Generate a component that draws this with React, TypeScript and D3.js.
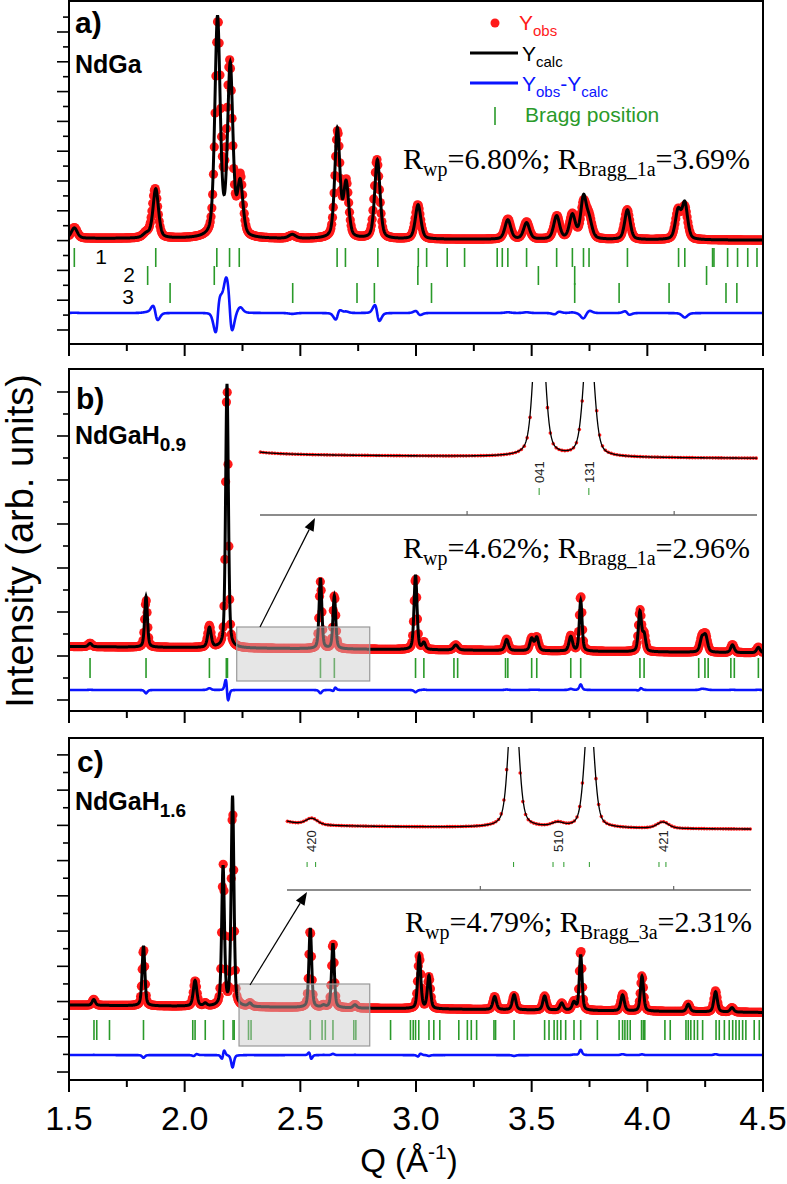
import React from "react";
import * as d3 from "d3";

const SANS = "'Liberation Sans', Arial, Helvetica, sans-serif";
const SERIF = "'Liberation Serif', 'Times New Roman', serif";
const RED = "#ff1a1a";
const BLUE = "#0a14ff";
const GREEN = "#2a9a2a";

// ---------- data ----------
const qDomain: [number, number] = [1.5, 4.5];
const qMajorTicks = [1.5, 2.0, 2.5, 3.0, 3.5, 4.0, 4.5];
const qMinorTicks = [1.75, 2.25, 2.75, 3.25, 3.75, 4.25];
const qTickLabels = ["1.5", "2.0", "2.5", "3.0", "3.5", "4.0", "4.5"];
const insetQDomain: [number, number] = [2.25, 2.85];
const insetQTicks = [2.5, 2.75];

// peaks: [Q, calc height, obs height, FWHM, obs shift]
type Peak = number[];
const peaksA: Peak[] = [
  [1.523, 700, 720, 0.03, 0],
  [1.835, 280, 330, 0.035, 0],
  [1.875, 3300, 3300, 0.028, -0.003],
  [2.142, 14700, 14300, 0.027, 0.0015],
  [2.178, 0, 1800, 0.028, 0],
  [2.197, 11400, 10800, 0.027, -0.0018],
  [2.24, 3500, 3900, 0.028, 0],
  [2.465, 260, 200, 0.035, 0],
  [2.66, 7300, 7100, 0.026, 0.0008],
  [2.698, 3600, 3700, 0.026, 0],
  [2.833, 5300, 5300, 0.027, -0.002],
  [3.009, 2300, 2300, 0.028, -0.0012],
  [3.397, 1300, 1350, 0.03, 0],
  [3.478, 1100, 1150, 0.03, 0],
  [3.608, 1550, 1550, 0.03, 0.0012],
  [3.676, 1600, 1650, 0.03, 0],
  [3.724, 2700, 2300, 0.028, 0],
  [3.748, 1200, 1400, 0.03, 0],
  [3.914, 2000, 2000, 0.028, -0.0012],
  [4.133, 1900, 1900, 0.028, 0],
  [4.162, 2400, 2100, 0.028, 0],
];
const backgroundA = [6150, 6030];
const braggA1 = [1.523, 1.875, 2.139, 2.194, 2.236, 2.659, 2.695, 2.835, 3.01, 3.046, 3.135, 3.21, 3.351, 3.373, 3.397, 3.478, 3.608, 3.676, 3.724, 3.748, 3.914, 4.135, 4.162, 4.282, 4.288, 4.347, 4.39, 4.434, 4.474];
const braggA2 = [1.84, 2.128, 3.008, 3.529, 3.686, 4.256];
const braggA3 = [1.937, 2.467, 2.745, 2.82, 3.067, 3.686, 3.878, 4.094, 4.34, 4.387];
const phaseLabels = ["1", "2", "3"];

const peaksB: Peak[] = [
  [1.591, 150, 160, 0.018, 0],
  [1.833, 2300, 2150, 0.014, 0],
  [2.107, 900, 980, 0.018, 0],
  [2.183, 12000, 12000, 0.014, -0.0004],
  [2.587, 3200, 3050, 0.014, 0],
  [2.647, 2400, 2450, 0.014, 0.0003],
  [2.998, 3400, 3300, 0.015, 0],
  [3.034, 300, 320, 0.016, 0],
  [3.172, 230, 230, 0.022, 0],
  [3.392, 500, 520, 0.018, 0],
  [3.5, 550, 560, 0.018, 0],
  [3.522, 600, 610, 0.018, 0],
  [3.669, 650, 700, 0.018, 0],
  [3.712, 2300, 2550, 0.014, 0],
  [3.968, 1800, 1850, 0.016, 0.0003],
  [3.986, 750, 750, 0.016, 0],
  [4.236, 600, 650, 0.02, 0],
  [4.252, 700, 730, 0.02, 0],
  [4.368, 350, 360, 0.018, 0],
  [4.48, 250, 260, 0.018, 0],
];
const backgroundB = [2430, 2140];
const braggB = [1.591, 1.833, 2.107, 2.18, 2.185, 2.587, 2.647, 2.998, 3.034, 3.164, 3.18, 3.387, 3.397, 3.5, 3.522, 3.669, 3.712, 3.968, 3.986, 4.222, 4.249, 4.263, 4.361, 4.376, 4.48];
const insetLabelsB: [string, number][] = [["041", 2.587], ["131", 2.647]];

const peaksC: Peak[] = [
  [1.607, 330, 340, 0.016, 0],
  [1.822, 3400, 3250, 0.014, 0],
  [2.045, 1450, 1450, 0.018, 0.0005],
  [2.089, 150, 150, 0.016, 0],
  [2.166, 7900, 7950, 0.014, 0.0003],
  [2.207, 11900, 11200, 0.014, 0],
  [2.282, 180, 190, 0.018, 0],
  [2.543, 4500, 4450, 0.014, -0.0004],
  [2.6, 110, 120, 0.018, 0],
  [2.641, 3650, 3720, 0.014, 0],
  [2.736, 180, 190, 0.018, 0],
  [3.014, 3000, 3000, 0.016, 0.0003],
  [3.056, 1850, 1800, 0.016, 0],
  [3.34, 740, 740, 0.018, 0],
  [3.424, 850, 800, 0.018, 0],
  [3.556, 800, 800, 0.018, 0],
  [3.63, 400, 400, 0.018, 0],
  [3.683, 450, 480, 0.018, 0],
  [3.712, 3150, 3450, 0.014, 0],
  [3.893, 900, 950, 0.018, 0],
  [3.977, 1980, 2020, 0.016, 0],
  [4.177, 420, 420, 0.018, 0],
  [4.295, 1150, 1200, 0.018, 0],
  [4.366, 250, 250, 0.018, 0],
];
const backgroundC = [3800, 3380];
const braggC = [1.608, 1.62, 1.675, 1.822, 2.035, 2.045, 2.089, 2.168, 2.209, 2.214, 2.276, 2.287, 2.543, 2.594, 2.608, 2.641, 2.731, 2.74, 2.89, 2.976, 2.988, 2.998, 3.012, 3.056, 3.077, 3.103, 3.185, 3.222, 3.239, 3.262, 3.337, 3.344, 3.424, 3.556, 3.575, 3.597, 3.611, 3.626, 3.647, 3.683, 3.712, 3.784, 3.878, 3.893, 3.903, 3.914, 3.926, 3.975, 3.983, 3.989, 4.076, 4.099, 4.167, 4.177, 4.188, 4.203, 4.217, 4.239, 4.297, 4.311, 4.333, 4.354, 4.369, 4.383, 4.397, 4.412, 4.426, 4.462, 4.484];
const insetLabelsC: [string, number][] = [["420", 2.282], ["510", 2.601], ["421", 2.736]];

// ---------- profile ----------
const ETA = 0.4;
const pv = (q: number, q0: number, w: number) => {
  const t = (q - q0) / w;
  return ETA / (1 + 4 * t * t) + (1 - ETA) * Math.exp(-4 * Math.LN2 * t * t);
};
function intensity(peaks: Peak[], bg: number[], q: number, observed: boolean) {
  let v = bg[0] + ((bg[1] - bg[0]) * (q - qDomain[0])) / (qDomain[1] - qDomain[0]);
  for (const [q0, hc, ho, w, s] of peaks) {
    v += observed ? ho * pv(q, q0 + (s || 0), w) : hc * pv(q, q0, w);
  }
  return v;
}
const qFine = d3.range(qDomain[0], qDomain[1] + 1e-9, 0.001);
const qObs = d3.range(qDomain[0] + 0.0015, qDomain[1], 0.0035);

// ---------- layout ----------
const X_LEFT = 69;
const X_RIGHT = 763;
const x = d3.scaleLinear().domain(qDomain).range([X_LEFT, X_RIGHT]);

interface PanelDef {
  id: string;
  top: number;
  bottom: number;
  yDomain: [number, number];
  peaks: Peak[];
  background: number[];
  diffOffset: number;
  bragg: number[][];
  braggRows: [number, number][];
  tickLabels: boolean;
}

const panels: PanelDef[] = [
  { id: "a", top: 1, bottom: 344, yDomain: [-940, 22080], peaks: peaksA, background: backgroundA, diffOffset: 1140,
    bragg: [braggA1, braggA2, braggA3], braggRows: [[248, 267], [266, 285], [283, 303]], tickLabels: false },
  { id: "b", top: 369, bottom: 711, yDomain: [-500, 15045], peaks: peaksB, background: backgroundB, diffOffset: 455,
    bragg: [braggB], braggRows: [[658, 678]], tickLabels: false },
  { id: "c", top: 738, bottom: 1080, yDomain: [-453, 18959], peaks: peaksC, background: backgroundC, diffOffset: 962,
    bragg: [braggC], braggRows: [[1020, 1040]], tickLabels: true },
];

function Panel({ p }: { p: PanelDef }) {
  const y = d3.scaleLinear().domain(p.yDomain).range([p.bottom, p.top]);
  const calc = qFine.map((q) => [q, intensity(p.peaks, p.background, q, false)] as [number, number]);
  const diff = qFine.map(
    (q) => [q, intensity(p.peaks, p.background, q, true) - intensity(p.peaks, p.background, q, false) + p.diffOffset] as [number, number]
  );
  const obs = qObs.map((q) => [q, intensity(p.peaks, p.background, q, true)]);
  const line = d3.line<[number, number]>().x((d) => x(d[0])).y((d) => y(d[1]));
  const yTicks = d3.range(0, p.yDomain[1] - 500, 1000);
  const clip = `clip-${p.id}`;
  return (
    <g>
      <defs>
        <clipPath id={clip}>
          <rect x={X_LEFT} y={p.top} width={X_RIGHT - X_LEFT} height={p.bottom - p.top} />
        </clipPath>
      </defs>
      <g clipPath={`url(#${clip})`}>
        {obs.map((d, i) => (
          <circle key={i} cx={x(d[0])} cy={y(d[1])} r={4.6} fill={RED} />
        ))}
        <path d={line(calc) || ""} fill="none" stroke="#000" strokeWidth={3} />
        <path d={line(diff) || ""} fill="none" stroke={BLUE} strokeWidth={2.6} />
        {p.bragg.map((row, r) =>
          row.map((q, i) => (
            <line key={`${r}-${i}`} x1={x(q)} x2={x(q)} y1={p.braggRows[r][0]} y2={p.braggRows[r][1]} stroke={GREEN} strokeWidth={1.6} />
          ))
        )}
      </g>
      <rect x={X_LEFT} y={p.top} width={X_RIGHT - X_LEFT} height={p.bottom - p.top} fill="none" stroke="#000" strokeWidth={2} />
      {yTicks.map((v) => (
        <line key={v} x1={X_LEFT} x2={X_LEFT - (v % 2000 === 0 ? 12 : 6)} y1={y(v)} y2={y(v)} stroke="#000" strokeWidth={1.6} />
      ))}
      {qMajorTicks.map((q) => (
        <line key={q} x1={x(q)} x2={x(q)} y1={p.bottom} y2={p.bottom + 12} stroke="#000" strokeWidth={2} />
      ))}
      {qMinorTicks.map((q) => (
        <line key={q} x1={x(q)} x2={x(q)} y1={p.bottom} y2={p.bottom + 7} stroke="#000" strokeWidth={2} />
      ))}
      {p.tickLabels &&
        qMajorTicks.map((q, i) => (
          <text key={q} x={x(q)} y={1130} textAnchor="middle" fontFamily={SANS} fontSize={34}>
            {qTickLabels[i]}
          </text>
        ))}
    </g>
  );
}

interface InsetDef {
  id: string;
  left: number;
  right: number;
  top: number;
  bottom: number;
  yDomain: [number, number];
  peaks: Peak[];
  background: number[];
  bragg: number[];
  tickRow: [number, number];
  labels: [string, number][];
  labelBottom: number;
}

const insets: InsetDef[] = [
  { id: "b", left: 260, right: 757, top: 382, bottom: 515, yDomain: [1310, 3640], peaks: peaksB, background: backgroundB,
    bragg: braggB, tickRow: [488, 495], labels: insetLabelsB, labelBottom: 483 },
  { id: "c", left: 287, right: 751, top: 747, bottom: 890, yDomain: [1880, 5960], peaks: peaksC, background: backgroundC,
    bragg: braggC, tickRow: [862, 867], labels: insetLabelsC, labelBottom: 852 },
];

function Inset({ s }: { s: InsetDef }) {
  const xi = d3.scaleLinear().domain(insetQDomain).range([s.left, s.right]);
  const yi = d3.scaleLinear().domain(s.yDomain).range([s.bottom, s.top]);
  const inRange = (q: number) => q >= insetQDomain[0] && q <= insetQDomain[1];
  const calc = qFine.filter(inRange).map((q) => [q, intensity(s.peaks, s.background, q, false)] as [number, number]);
  const obs = qObs.filter(inRange).map((q) => [q, intensity(s.peaks, s.background, q, true)]);
  const line = d3.line<[number, number]>().x((d) => xi(d[0])).y((d) => yi(d[1]));
  const clip = `inset-clip-${s.id}`;
  return (
    <g>
      <defs>
        <clipPath id={clip}>
          <rect x={s.left - 3} y={s.top} width={s.right - s.left + 6} height={s.bottom - s.top} />
        </clipPath>
      </defs>
      <g clipPath={`url(#${clip})`}>
        {obs.map((d, i) => (
          <circle key={i} cx={xi(d[0])} cy={yi(d[1])} r={1.8} fill={RED} />
        ))}
        <path d={line(calc) || ""} fill="none" stroke="#000" strokeWidth={1.3} />
      </g>
      {s.bragg.filter(inRange).map((q, i) => (
        <line key={i} x1={xi(q)} x2={xi(q)} y1={s.tickRow[0]} y2={s.tickRow[1]} stroke={GREEN} strokeWidth={1} />
      ))}
      {s.labels.map(([t, q]) => (
        <text key={t} transform={`translate(${xi(q)},${s.labelBottom}) rotate(-90)`} dy="0.36em" fontFamily={SANS} fontSize={13} fill="#222">
          {t}
        </text>
      ))}
      <line x1={s.left} x2={s.right} y1={s.bottom} y2={s.bottom} stroke="#666" strokeWidth={1.4} />
      {insetQTicks.map((q) => (
        <line key={q} x1={xi(q)} x2={xi(q)} y1={s.bottom} y2={s.bottom - 4} stroke="#666" strokeWidth={1.2} />
      ))}
    </g>
  );
}

function Arrow({ from, to }: { from: [number, number]; to: [number, number] }) {
  const dx = to[0] - from[0];
  const dy = to[1] - from[1];
  const len = Math.hypot(dx, dy);
  const ux = dx / len;
  const uy = dy / len;
  const headL = 13;
  const headW = 5;
  const bx = to[0] - ux * headL;
  const by = to[1] - uy * headL;
  const pts = [
    [to[0], to[1]],
    [bx - uy * headW, by + ux * headW],
    [bx + uy * headW, by - ux * headW],
  ];
  return (
    <g>
      <line x1={from[0]} y1={from[1]} x2={bx} y2={by} stroke="#000" strokeWidth={1.2} />
      <polygon points={pts.map((p) => p.join(",")).join(" ")} fill="#000" />
    </g>
  );
}

function RText({ x0, y0, wp, bragg, rb }: { x0: number; y0: number; wp: string; bragg: string; rb: string }) {
  return (
    <text x={x0} y={y0} fontFamily={SERIF} fontSize={30}>
      R<tspan fontSize={20} dy={7}>wp</tspan>
      <tspan dy={-7}>={wp}; R</tspan>
      <tspan fontSize={20} dy={7}>{bragg}</tspan>
      <tspan dy={-7}>={rb}</tspan>
    </text>
  );
}

export default function App() {
  return (
    <svg width={787} height={1184} viewBox="0 0 787 1184" style={{ position: "absolute", left: 0, top: 0, background: "#fff" }}>
      <rect x={0} y={0} width={787} height={1184} fill="#fff" />
      {panels.map((p) => (
        <Panel key={p.id} p={p} />
      ))}

      {/* panel a annotations */}
      <text x={75} y={33} fontFamily={SANS} fontWeight="bold" fontSize={30}>a)</text>
      <text x={75} y={73} fontFamily={SANS} fontWeight="bold" fontSize={25}>NdGa</text>
      <text x={101} y={264} textAnchor="middle" fontFamily={SANS} fontSize={21}>{phaseLabels[0]}</text>
      <text x={129} y={282} textAnchor="middle" fontFamily={SANS} fontSize={21}>{phaseLabels[1]}</text>
      <text x={128} y={304} textAnchor="middle" fontFamily={SANS} fontSize={21}>{phaseLabels[2]}</text>
      <circle cx={495} cy={23} r={4.5} fill={RED} />
      <text x={519} y={30} fontFamily={SANS} fontSize={21} fill={RED}>
        Y<tspan fontSize={15} dy={6}>obs</tspan>
      </text>
      <line x1={470} x2={518} y1={53} y2={53} stroke="#000" strokeWidth={3} />
      <text x={522} y={61} fontFamily={SANS} fontSize={21} fill="#000">
        Y<tspan fontSize={15} dy={6}>calc</tspan>
      </text>
      <line x1={470} x2={518} y1={83} y2={83} stroke={BLUE} strokeWidth={3} />
      <text x={522} y={91} fontFamily={SANS} fontSize={21} fill={BLUE}>
        Y<tspan fontSize={15} dy={6}>obs</tspan>
        <tspan dy={-6}>-Y</tspan>
        <tspan fontSize={15} dy={6}>calc</tspan>
      </text>
      <line x1={495} x2={495} y1={107} y2={125} stroke={GREEN} strokeWidth={1.6} />
      <text x={525} y={122} fontFamily={SANS} fontSize={21} fill={GREEN}>Bragg position</text>
      <RText x0={403} y0={169} wp="6.80%" bragg="Bragg_1a" rb="3.69%" />

      {/* panel b annotations */}
      <text x={76} y={409} fontFamily={SANS} fontWeight="bold" fontSize={30}>b)</text>
      <text x={75} y={444} fontFamily={SANS} fontWeight="bold" fontSize={25}>
        NdGaH<tspan fontSize={19} dy={7}>0.9</tspan>
      </text>
      <RText x0={403} y0={558} wp="4.62%" bragg="Bragg_1a" rb="2.96%" />
      <rect x={x(2.225)} y={627} width={x(2.8) - x(2.225)} height={54} fill="#c8c8c8" fillOpacity={0.45} stroke="#999" strokeWidth={1.2} />
      <Arrow from={[260, 627]} to={[315, 518]} />
      <Inset s={insets[0]} />

      {/* panel c annotations */}
      <text x={77} y={772} fontFamily={SANS} fontWeight="bold" fontSize={30}>c)</text>
      <text x={75} y={810} fontFamily={SANS} fontWeight="bold" fontSize={25}>
        NdGaH<tspan fontSize={19} dy={7}>1.6</tspan>
      </text>
      <RText x0={405} y0={932} wp="4.79%" bragg="Bragg_3a" rb="2.31%" />
      <rect x={x(2.235)} y={984} width={x(2.8) - x(2.235)} height={62} fill="#c8c8c8" fillOpacity={0.45} stroke="#999" strokeWidth={1.2} />
      <Arrow from={[250, 985]} to={[307, 892]} />
      <Inset s={insets[1]} />

      {/* axis titles */}
      <text transform="translate(33,541) rotate(-90)" textAnchor="middle" fontFamily={SANS} fontSize={38}>
        Intensity (arb. units)
      </text>
      <text x={409} y={1172} textAnchor="middle" fontFamily={SANS} fontSize={33}>
        Q (Å<tspan fontSize={21} dy={-13}>-1</tspan>
        <tspan dy={13}>)</tspan>
      </text>
    </svg>
  );
}
